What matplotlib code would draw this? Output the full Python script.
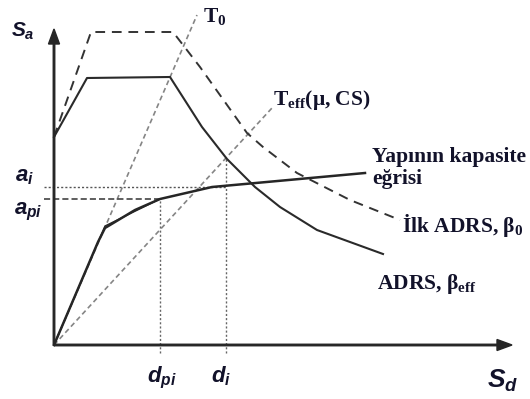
import numpy as np
import matplotlib
matplotlib.use("Agg")
import matplotlib.pyplot as plt

# math text: serif bold for subscripts in the labels, sans bold italic for axis symbols
plt.rcParams['mathtext.fontset'] = 'custom'
plt.rcParams['mathtext.rm'] = 'Liberation Serif:bold'
plt.rcParams['mathtext.it'] = 'Liberation Sans:italic:bold'

# spectral displacement / acceleration (arbitrary units)
# initial demand spectrum (ADRS, beta_0)
adrs0_sd = [0.00, 0.37, 1.19, 1.46, 1.93, 2.09, 2.43, 2.96, 3.46]
adrs0_sa = [2.08, 3.13, 3.13, 2.78, 2.12, 1.98, 1.72, 1.45, 1.25]

# reduced demand spectrum (ADRS, beta_eff)
adrs_sd = [0.00, 0.33, 1.16, 1.48, 1.73, 2.01, 2.26, 2.63, 3.29]
adrs_sa = [2.08, 2.67, 2.68, 2.18, 1.86, 1.58, 1.38, 1.15, 0.91]

# capacity curve and its bilinear idealisation
cap_sd = [0.00, 0.44, 0.51, 0.61, 0.81, 1.06, 1.58, 3.11]
cap_sa = [0.00, 1.03, 1.17, 1.23, 1.35, 1.46, 1.58, 1.72]
bil_sd = [0.00, 0.51, 1.06]
bil_sa = [0.00, 1.19, 1.46]

# period lines from the origin
t0_end = (1.43, 3.30)
teff_end = (2.18, 2.37)

# performance point values
d_pi, a_pi = 1.06, 1.46
d_i, a_i = 1.72, 1.58
sa_at_di = 1.86

ink = '#12122a'
serif = dict(family='Liberation Serif', weight='bold', color=ink, fontsize=15.5)
sans = dict(color=ink, fontsize=16)

fig = plt.figure(figsize=(5.30, 3.99), dpi=100)
ax = fig.add_axes([0, 0, 1, 1])
ax.set_xlim(-0.54, 4.76)
ax.set_ylim(-0.54, 3.45)
ax.axis('off')

# period lines
ax.plot([0, t0_end[0]], [0, t0_end[1]], color='#858585', lw=1.2, ls=(0, (3, 2)))
ax.plot([0, teff_end[0]], [0, teff_end[1]], color='#858585', lw=1.2, ls=(0, (3, 2)))

# guide lines for the performance point
ax.plot([-0.10, d_i], [a_i, a_i], color='#555555', lw=1.0, ls=(0, (1.5, 1.5)))
ax.plot([-0.10, d_pi], [a_pi, a_pi], color='#333333', lw=1.1, ls=(0, (4, 2)))
ax.plot([d_pi, d_pi], [-0.08, a_pi], color='#666666', lw=1.0, ls=(0, (1.5, 1.5)))
ax.plot([d_i, d_i], [-0.08, sa_at_di], color='#666666', lw=1.0, ls=(0, (1.5, 1.5)))

# spectra
ax.plot(adrs0_sd, adrs0_sa, color='#333333', lw=1.4, ls=(0, (5, 3.5)))
ax.plot(adrs_sd, adrs_sa, color='#2a2a2a', lw=1.5)

# capacity curve
ax.plot(cap_sd, cap_sa, color='#262626', lw=1.8)
ax.plot(bil_sd, bil_sa, color='#262626', lw=1.0)

# axes with arrow heads
ax.arrow(0, 0, 4.58, 0, width=0.015, head_width=0.11, head_length=0.15,
         length_includes_head=True, color='#262626', zorder=5)
ax.arrow(0, 0, 0, 3.16, width=0.015, head_width=0.11, head_length=0.15,
         length_includes_head=True, color='#262626', zorder=5)

# axis symbols
ax.text(-0.43, 3.08, '$S_a$', ha='left', va='baseline', color=ink, fontsize=15)
ax.text(4.33, -0.43, '$S_d$', ha='left', va='baseline', color=ink, fontsize=19)
ax.text(-0.39, 1.64, '$a_i$', ha='left', va='baseline', **sans)
ax.text(-0.40, 1.31, '$a_{pi}$', ha='left', va='baseline', **sans)
ax.text(0.93, -0.37, '$d_{pi}$', ha='left', va='baseline', **sans)
ax.text(1.57, -0.37, '$d_i$', ha='left', va='baseline', **sans)

# curve labels
ax.text(1.49, 3.23, 'T$_0$', ha='left', va='baseline', **serif)
ax.text(2.19, 2.40, 'T$_{\\mathrm{eff}}$(μ, CS)', ha='left', va='baseline', **serif)
ax.text(3.18, 1.83, 'Yapının kapasite', ha='left', va='baseline', **serif)
ax.text(3.18, 1.61, 'eğrisi', ha='left', va='baseline', **serif)
ax.text(3.48, 1.13, 'İlk ADRS, β$_0$', ha='left', va='baseline', **serif)
ax.text(3.23, 0.56, 'ADRS, β$_{\\mathrm{eff}}$', ha='left', va='baseline', **serif)

fig.savefig('out.png', dpi=100)
